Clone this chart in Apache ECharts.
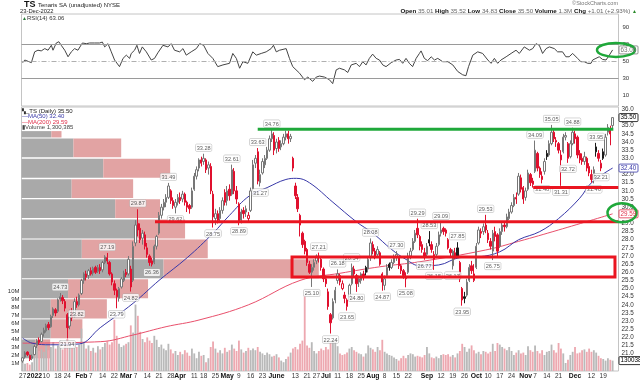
<!DOCTYPE html>
<html><head><meta charset="utf-8">
<script src="https://cdn.jsdelivr.net/npm/echarts@6/dist/echarts.min.js"></script>
<style>html,body{margin:0;padding:0;background:#fff}#c{width:640px;height:380px}</style>
</head><body><div id="c"></div>
<script>
// ---------------- DATA ----------------
const START = '2021-12-27', END = '2022-12-23';
const HOLIDAYS = ['2022-01-17','2022-02-21','2022-04-15','2022-05-30','2022-06-20','2022-07-04','2022-09-05','2022-11-24'];
const MONTH_NAMES = ['2022','Feb','Mar','Apr','May','June','Jul','Aug','Sep','Oct','Nov','Dec'];
// daily [open, close, low, high]
const CANDLES = [
[20.55,20.75,20.45,20.8],[20.8,21.05,20.7,21.15],[21.1,20.95,20.85,21.15],[20.9,20.65,20.55,20.95],[20.7,20.85,20.6,20.95],
[20.95,21.45,20.9,21.55],[21.5,21.8,21.35,21.9],[21.85,21.7,21.55,22.0],[21.75,22.2,21.7,22.3],[22.25,22.45,22.05,22.6],
[22.4,22.75,22.3,22.85],[22.8,22.6,22.45,22.95],[22.65,23.3,22.6,23.4],[23.35,23.75,23.2,23.85],[23.7,23.5,23.3,23.8],
[23.6,24.3,23.5,24.4],[24.35,24.5,24.2,24.73],[24.45,24.25,24.05,24.6],[24.2,23.8,23.6,24.35],
[23.4,22.6,21.94,23.5],[22.7,23.5,22.5,23.7],[23.5,23.2,23.0,23.8],[23.3,24.2,23.2,24.4],[24.2,24.0,23.82,24.5],
[24.0,24.6,23.9,24.7],[24.7,25.5,24.6,25.6],[25.5,25.9,25.3,26.0],[25.9,25.7,25.5,26.1],[25.8,26.1,25.6,26.2],
[26.1,25.9,25.8,26.3],[25.95,26.25,25.8,26.35],[26.3,26.0,25.9,26.4],[26.05,26.3,25.95,26.45],[26.3,26.1,25.9,26.5],
[26.15,26.6,26.0,26.7],[26.6,26.95,26.5,27.05],[26.9,26.7,26.5,27.19],[26.6,25.9,25.8,26.7],[25.9,25.4,25.2,26.0],
[25.3,24.9,24.6,25.5],[24.9,24.5,23.79,25.0],[24.4,25.0,24.2,25.1],[25.1,25.6,25.0,25.7],
[25.5,25.95,25.4,26.1],[26.0,25.85,25.7,26.2],[25.9,26.8,25.8,27.0],[26.2,25.1,24.82,26.4],[25.5,27.6,25.4,27.9],
[27.8,28.9,27.6,29.2],[29.0,28.6,28.2,29.87],[28.7,28.0,27.8,29.0],[28.1,28.4,27.7,28.6],[28.3,27.6,27.4,28.5],
[27.5,27.1,26.9,27.8],[27.0,26.6,26.4,27.1],[26.7,26.5,26.36,26.9],[26.6,27.6,26.5,27.7],[27.6,28.2,27.4,28.3],
[28.4,29.5,28.3,29.7],[29.5,30.0,29.3,30.2],[30.0,30.3,29.8,30.5],[30.3,30.6,30.0,30.8],[30.6,31.3,30.5,31.49],
[31.0,30.4,30.2,31.1],[30.4,30.1,29.9,30.6],[30.0,30.3,29.62,30.5],[30.3,30.6,30.1,30.8],[30.6,30.4,30.2,30.9],
[30.5,30.8,30.3,31.0],[30.8,30.3,30.1,30.9],[30.3,30.0,29.7,30.4],[30.1,29.9,29.6,30.2],[30.0,31.0,29.9,31.2],
[31.1,31.9,31.0,32.1],[31.9,32.3,31.7,32.5],[32.4,32.9,32.2,33.0],[32.9,32.7,32.5,33.1],
[32.8,33.0,32.6,33.28],[32.9,32.3,32.1,33.0],[32.4,32.6,32.0,32.8],[32.5,31.0,30.8,32.7],[30.8,29.4,28.75,31.0],
[29.3,29.6,28.9,29.9],[29.6,29.2,29.0,29.8],[29.3,29.8,29.1,30.0],[29.8,30.4,29.6,30.6],[30.9,30.3,30.1,31.1],
[30.4,31.0,30.1,31.3],[31.1,30.7,30.4,31.4],[30.8,32.3,30.7,32.61],[32.2,31.0,30.8,32.4],[31.0,30.5,30.2,31.3],
[30.2,29.1,28.89,30.3],[29.2,29.7,29.0,29.9],[29.8,29.6,29.3,30.0],[29.7,29.9,29.4,30.1],[29.3,29.5,29.1,29.7],
[29.8,31.0,29.7,31.2],[31.1,32.6,31.0,32.9],[32.7,33.0,32.4,33.2],[33.4,31.6,31.4,33.63],[31.5,32.0,31.27,32.3],
[32.1,32.8,32.0,33.0],[32.6,33.0,32.4,33.2],[33.0,33.5,32.9,33.7],[33.5,34.2,33.4,34.4],[34.2,34.5,34.0,34.76],
[34.4,33.5,33.2,34.6],[33.6,34.0,33.3,34.2],[34.1,33.6,33.4,34.3],[33.7,33.9,33.5,34.1],
[33.9,34.3,33.8,34.5],[34.3,34.5,34.1,34.7],[34.5,34.2,33.9,34.7],[34.2,34.35,34.0,34.5],[33.0,32.4,32.2,33.1],
[31.3,30.7,30.5,31.5],[30.6,29.9,29.7,30.8],[29.5,28.9,28.2,29.6],[28.4,27.7,27.5,28.5],[27.9,27.3,27.1,28.0],
[27.4,26.6,26.4,27.5],[26.5,26.0,25.9,26.7],[26.0,26.3,25.1,26.5],[26.3,26.6,26.1,26.8],
[26.7,27.0,26.5,27.1],[27.0,26.9,26.6,27.21],[26.8,26.3,26.1,26.9],[26.2,25.6,25.4,26.3],[25.6,25.3,25.1,25.8],
[24.8,23.9,23.7,25.0],[23.4,22.9,22.24,23.5],[23.2,24.2,23.1,24.4],[24.3,24.9,24.1,25.1],
[25.5,25.9,25.3,26.18],[25.8,25.4,25.2,25.9],[25.0,25.3,24.9,25.5],[24.6,24.4,24.1,24.8],[23.9,24.3,23.65,24.4],
[24.5,25.2,24.4,25.3],[25.3,26.3,25.2,26.54],[26.2,25.9,25.7,26.4],[25.8,25.3,24.8,25.9],[25.4,25.6,25.1,25.8],
[25.5,25.9,25.3,26.0],[25.9,25.7,25.5,26.1],[26.3,26.0,25.8,26.4],[26.2,26.8,26.0,27.0],[26.9,27.8,26.7,28.08],
[27.7,27.3,27.1,27.9],[27.3,27.0,26.8,27.5],[27.1,27.4,26.9,27.6],[27.2,26.5,26.4,27.3],[25.9,25.4,24.87,26.0],
[25.2,25.6,24.9,25.8],[25.8,26.3,25.7,26.5],[26.5,26.3,26.1,26.6],[26.3,26.6,26.2,26.8],[26.6,26.9,26.5,27.1],
[26.9,27.1,26.7,27.3],[26.9,26.4,26.2,27.0],[26.4,26.1,25.9,26.5],[26.1,25.8,25.6,26.2],[25.6,25.75,25.08,26.0],
[26.0,27.0,25.9,27.2],[27.0,27.3,26.8,27.5],[27.4,27.9,27.3,28.1],[27.9,28.4,27.8,28.6],[28.7,28.3,28.1,29.29],
[28.2,27.6,27.35,28.3],[27.7,27.4,27.2,27.9],[27.2,27.0,26.77,27.5],[27.1,27.6,27.0,27.8],[28.0,27.8,27.6,28.53],
[27.7,27.4,27.2,27.9],[26.8,27.1,26.15,27.3],[27.1,27.6,27.0,27.8],[27.7,28.3,27.6,28.5],
[28.4,28.6,28.2,29.09],[28.7,28.5,28.3,28.8],[28.6,28.4,28.2,28.7],[28.0,27.5,27.4,28.1],[27.4,27.2,26.9,27.5],
[26.4,27.3,26.17,27.4],[27.2,27.0,26.8,27.5],[27.5,27.0,26.9,27.85],[26.6,25.6,25.4,26.7],[25.0,24.3,23.95,25.1],
[24.5,24.4,24.1,24.8],[24.6,25.4,24.5,25.6],[25.5,26.3,25.4,26.5],[26.4,26.1,25.9,26.7],[25.5,25.9,25.4,26.5],
[26.3,27.6,26.2,27.8],[27.8,28.6,27.7,28.8],[28.5,28.4,28.1,28.7],[28.5,28.8,28.3,29.0],[28.9,28.6,28.4,29.53],
[28.4,28.0,27.8,28.6],[27.9,27.6,27.4,28.1],[27.3,28.4,26.75,28.6],[28.5,28.2,27.9,28.8],[28.3,27.3,27.0,28.4],
[27.6,28.5,27.5,28.7],[28.5,28.9,28.3,29.1],[28.9,28.8,28.5,29.1],[28.8,29.4,28.7,29.6],[29.3,29.7,29.2,29.9],
[29.7,30.1,29.6,30.3],[30.1,30.6,30.0,30.8],[30.6,30.5,30.2,30.9],[30.8,31.9,30.7,32.1],[31.8,31.1,30.9,32.0],
[31.2,30.5,30.2,31.3],[30.6,31.0,30.4,31.2],[31.1,32.1,31.0,32.3],[32.0,31.5,31.3,32.1],[31.6,31.4,31.2,31.8],
[32.2,33.5,32.1,34.09],[33.3,32.4,32.2,33.4],[32.4,32.0,31.8,32.5],[31.9,31.7,31.46,32.2],[32.2,32.8,32.0,33.0],
[33.3,33.1,32.9,33.5],[33.2,33.9,33.1,34.1],[33.9,34.6,33.8,35.05],[34.6,34.2,34.0,34.8],[34.0,34.1,33.7,34.3],
[33.9,33.5,33.3,34.0],[32.9,33.2,31.31,33.5],[33.4,34.3,33.3,34.5],[34.3,34.4,34.1,34.6],
[33.9,33.0,32.72,34.0],[33.1,33.9,33.0,34.1],[33.9,34.6,33.8,34.88],[34.5,34.2,33.9,34.7],[34.3,33.2,33.0,34.4],
[33.3,32.9,32.7,33.5],[33.0,32.8,32.6,33.3],[32.8,33.1,32.6,33.4],[33.0,32.4,32.2,33.1],[32.5,32.1,31.9,32.7],
[32.0,31.7,31.5,32.3],[31.8,32.3,31.46,32.5],[33.7,33.4,33.1,33.95],[33.3,33.0,32.8,33.5],[32.4,32.7,32.21,32.9],
[33.4,33.0,32.9,33.6],[33.2,34.3,33.1,34.5],[34.6,34.9,34.4,35.1],[34.8,34.49,33.8,35.0],[35.01,35.5,34.83,35.52]
];
// daily volume, millions
const VOLUME_M = [
1.2,0.9,1.0,0.8,1.1, 2.9,3.1,2.5,2.7,2.4, 3.4,2.6,3.0,3.6,2.8, 3.2,3.8,2.7,3.3, 4.0,3.1,2.9,3.5,3.0,
3.3,5.3,3.6,2.8,3.2, 2.5,2.9,2.3,3.1,2.7, 3.0,3.5,3.7,3.3,3.6, 6.4,4.4,3.4,3.0, 3.2,3.4,3.6,5.7,4.8,
8.3,6.9,4.9,4.0,3.6, 4.2,3.8,3.5,4.4,3.9, 3.0,3.3,2.8,2.6,3.4, 2.7,2.2,2.5,2.0,2.4, 2.1,2.6,2.3,1.9,2.8,
2.2,1.6,2.4,1.9, 2.0,1.1,1.6,3.0,3.7, 2.8,2.3,2.6,2.2,2.9, 2.4,2.6,3.3,2.8,2.5, 3.8,2.7,2.3,2.5,2.9,
2.6,2.8,2.6,3.0,2.4, 2.2,2.0,2.3,2.1,1.8, 1.9,2.1,1.7,1.3, 1.1,1.5,1.8,2.3,2.8, 3.0,2.7,3.4,3.8,9.5,
3.2,2.9,3.6,2.5, 2.2,2.5,2.8,2.6,3.0, 2.7,3.5,3.8,3.9, 3.1,2.2,2.0,2.1,2.3, 2.8,3.0,2.6,2.4,2.2,
2.1,1.8,2.2,3.2,2.9, 2.7,2.4,3.0,2.6,3.9, 2.4,2.2,2.0,1.9,1.7, 1.5,1.3,1.6,1.9,1.6, 2.0,2.2,2.1,1.8,1.9,
1.8,1.7,2.0,3.0,2.2, 1.7,1.6,1.8,1.6, 2.0,2.1,2.0,2.1,1.8, 2.0,1.7,2.2,2.5,3.4, 3.0,2.4,2.8,3.2,2.6,
2.2,2.4,2.1,2.5,2.4, 2.2,2.4,3.4,2.5,3.5, 3.3,3.0,2.8,2.6,3.0, 2.5,2.0,2.3,2.6,2.2, 2.3,2.0,3.1,2.6,2.4,
3.2,2.5,2.2,2.6,2.0, 2.4,2.5,3.3,2.6,2.3, 3.5,2.8,2.2,1.0, 1.4,2.0,2.4,3.0,2.2, 2.3,2.6,2.7,2.4,2.8,
2.4,2.6,2.3,1.9,1.6, 1.5,1.3,1.6,1.4,1.300385
];
// RSI(14) readings [day index, value]
const RSI_PTS = [[0,48],[0.9,51.2],[3.7,48.1],[5.1,60.8],[6.5,62.7],[7.9,61.9],[9.4,64.6],[10.8,62.7],[12.2,68.5],[12.9,62.7],[14.3,71.2],[15.4,72.7],[16.4,68.5],[17.9,62.7],[19.3,55],[20.7,60.8],[22.1,64.6],[23.5,62.7],[25.4,71.2],[27.1,70.4],[28.5,71.2],[30.6,71.2],[32.7,71.2],[33.9,72.3],[34.9,66.6],[36.3,70.4],[37.7,60.8],[39.1,51.2],[41.2,43.4],[42.7,53.1],[44.1,56.9],[45.5,53.1],[46.2,58.9],[47.6,62.7],[48.6,68.5],[49.7,58.9],[50.9,66.6],[52.6,60.8],[54.7,51.2],[56.1,53.1],[57.5,59.6],[59.7,68.5],[61.8,66.6],[63.2,70.4],[64.6,62.7],[66.8,60.8],[68.2,64.6],[69.6,56.9],[71.7,60.8],[73.9,64.6],[75.3,70.4],[77,68.5],[78.8,58.9],[80.9,53.1],[83,43.4],[85.2,45.4],[88,47.3],[89.4,58.9],[90.9,53.1],[92.3,41.5],[93.7,49.2],[95.8,47.3],[97.9,60.8],[99.4,56.9],[101.5,58.9],[103.6,60.8],[105.7,64.6],[106.7,68.5],[107.9,60.8],[109.3,62.7],[112.1,64.6],[113.5,53.1],[114.9,43.4],[117.8,35.7],[119.9,28],[121.3,31.1],[123.4,26.1],[124.9,31.1],[126.3,32.3],[128.4,31.1],[130.5,28],[131.9,23.4],[133.4,39.6],[134.8,41.5],[136.9,39.6],[138.3,36.5],[139.8,45.4],[141.9,47.3],[143.3,43.4],[144.7,49.2],[146.1,45.4],[147.5,53.1],[148.9,58.1],[150.4,53.1],[151.8,51.2],[153.2,45.4],[154.6,43.4],[156.8,48.1],[158.9,51.2],[160.3,51.9],[161.7,47.3],[163.1,53.1],[164.5,47.3],[165.9,43.4],[167.4,53.1],[168.8,58.9],[169.5,61.9],[170.9,53.1],[172.3,50.4],[173.8,55],[175.2,51.2],[176.6,53.1],[178.7,49.2],[180.9,49.2],[183,45.4],[185.1,37.7],[187.2,33.8],[188.6,32.7],[189.7,43.4],[191.5,56.9],[193.6,60.8],[195.7,58.9],[197.9,51.2],[199.3,47.3],[200.7,53.1],[202.1,47.3],[203.5,51.2],[205.7,55],[207.8,58.9],[209.9,62.7],[211.3,58.9],[213.4,66.6],[215.6,62.7],[217,64.6],[218.4,70.4],[219.8,68.5],[221.2,58.9],[222.7,64.6],[224.1,66.6],[224.8,68.5],[226.2,64.6],[227.6,60.8],[228.3,58.9],[229.7,60.8],[231.1,55],[232.5,55],[234,58.9],[236.1,53.1],[237.5,49.2],[238.9,49.2],[240.4,47.3],[241.8,47.3],[242.5,51.2],[243.9,53.1],[245.3,55],[246.7,51.9],[248.2,51.2],[249.6,56.9],[250.4,59],[251,63.06]];
const MA50_PTS = [[0,21.96],[4,21.65],[12,21.55],[24,21.6],[33,22.6],[47,24.1],[58,25.5],[70,26.9],[81,28.4],[88,29.5],[96.5,30.7],[104,31.2],[112,31.7],[116.5,31.77],[122,31.5],[132,30.3],[142,29.1],[149,28.4],[157,27.4],[163,26.8],[169,26.4],[177,26.45],[186,26.9],[194,26.95],[203,27.26],[211,28.0],[220,28.5],[228,29.3],[237,30.55],[242,31.5],[251,32.40]];
const MA200_PTS = [[0,21.65],[33,21.74],[47,22.15],[61,22.66],[75,23.07],[96,24.0],[118,25.5],[135,25.94],[152,26.34],[169,26.65],[197,27.37],[211,27.9],[228,28.6],[251,29.59]];
// volume-by-price: [low price, high price, up volume, down volume] (relative units)
const VBP = [[34.28,34.67,5.0,1.7],[33.06,34.22,8.7,8.0],[31.80,32.97,13.7,11.2],[30.56,31.72,8.4,10.3],[29.33,30.48,15.7,7.5],[28.08,29.25,19.4,8.0],[26.86,28.02,10.1,21.1],[25.63,26.80,23.8,26.0],[24.40,25.57,7.8,13.4],[23.17,24.34,4.9,9.4],[21.95,23.11,4.9,5.3],[20.72,21.88,2.3,2.5]];
// swing high/low labels: [day index, price, 't' above / 'b' below]
const HL_LABELS = [[16,24.73,'t'],[19,21.94,'b'],[23,23.82,'b'],[36,27.19,'t'],[40,23.79,'b'],[46,24.82,'b'],[49,29.87,'t'],[55,26.36,'b'],[62,31.49,'t'],[65,29.62,'b'],[77,33.28,'t'],[81,28.75,'b'],[89,32.61,'t'],[92,28.89,'b'],[100,33.63,'t'],[101,31.27,'b'],[106,34.76,'t'],[123,25.10,'b'],[126,27.21,'t'],[131,22.24,'b'],[134,26.18,'t'],[138,23.65,'b'],[140,26.54,'t'],[142,24.80,'b'],[148,28.08,'t'],[153,24.87,'b'],[159,27.30,'t'],[163,25.08,'b'],[168,29.29,'t'],[171,26.77,'b'],[173,28.53,'t'],[175,26.15,'b'],[178,29.09,'t'],[183,26.17,'b'],[185,27.85,'t'],[187,23.95,'b'],[197,29.53,'t'],[200,26.75,'b'],[218,34.09,'t'],[221,31.46,'b'],[225,35.05,'t'],[229,31.31,'b'],[232,32.72,'b'],[234,34.88,'t'],[243,31.46,'b'],[244,33.95,'t'],[246,32.21,'b']];
const PRICE_TICKS = [21.0,21.5,22.0,22.5,23.0,23.5,24.0,24.5,25.0,25.5,26.0,26.5,27.0,27.5,28.0,28.5,29.0,30.0,30.5,31.0,31.5,32.0,33.0,33.5,34.0,34.5,35.0,36.0];
const RSI_TICKS = [10,30,50,70,90];
const VOL_TICKS = [1,2,3,4,5,6,7,8,9,10];
const LAST = {open:35.01, high:35.52, low:34.83, close:35.50, vol:1300385, ma50:32.40, ma200:29.59, rsi:63.06, chg:1.01, chgPct:2.93};
// hand-drawn annotations in data space
const GREEN_LINE = [100, 251.3, 34.78];
const RED_LINES = [[56.3, 253.4, 29.10],[217.2, 253.4, 31.21]];
const RED_BOX = [114.6, 252.0, 25.71, 26.94];

// ---------------- BUILD ----------------
const DATES = [];
for (let t = Date.parse(START+'T00:00:00Z'); t <= Date.parse(END+'T00:00:00Z'); t += 86400000) {
  const d = new Date(t), wd = d.getUTCDay(), s = d.toISOString().slice(0,10);
  if (wd !== 0 && wd !== 6 && HOLIDAYS.indexOf(s) < 0) DATES.push(s);
}
const N = DATES.length, NC = N + 2;
const cats = DATES.concat(['', ' ']);
const LABELS = {};
const monthStarts = [];
for (let i = 1; i < N; i++) if (DATES[i].slice(5,7) !== DATES[i-1].slice(5,7)) monthStarts.push(i);
monthStarts.forEach(i => LABELS[i] = '{b|' + MONTH_NAMES[+DATES[i].slice(5,7) - 1] + '}');
const dow = s => new Date(s + 'T00:00:00Z').getUTCDay();
for (let i = 0; i < N; i++) {
  const ws = i === 0 || dow(DATES[i]) < dow(DATES[i-1]);
  if (ws && !LABELS[i] && !monthStarts.some(m => Math.abs(m - i) <= 3)) LABELS[i] = String(+DATES[i].slice(8));
}
const RED = '#e0102e', BLACK = '#1c1c1c', GRAYC = '#777777';
const candleData = CANDLES.map((c, i) => {
  const prev = i > 0 ? CANDLES[i-1][1] : c[0];
  const down = c[1] < prev, hollow = c[1] > c[0];
  const line = down ? RED : (hollow ? GRAYC : BLACK);
  const fill = hollow ? '#ffffff' : line;
  return {value: c, itemStyle: {color: fill, color0: fill, borderColor: line, borderColor0: line, borderWidth: 1}};
});
const volData = VOLUME_M.map((v, i) => {
  const prev = i > 0 ? CANDLES[i-1][1] : CANDLES[i][0];
  return {value: v, itemStyle: {color: CANDLES[i][1] < prev ? '#eda8b0' : '#b9b9b9'}};
});
const hlData = HL_LABELS.map(r => ({value: [r[0], r[1]], label: {position: r[2] === 't' ? 'top' : 'bottom'}}));

const FONT = 'Liberation Sans, Arial, sans-serif';
const L = 21.5, W = 597;
const chart = echarts.init(document.getElementById('c'));
chart.setOption({
  animation: false,
  backgroundColor: '#ffffff',
  textStyle: {fontFamily: FONT},
  grid: [
    {left: L, top: 14, width: W, height: 92, show: true, borderColor: '#c4c4c4', borderWidth: 1},
    {left: L, top: 107, width: W, height: 264, show: true, borderColor: '#c4c4c4', borderWidth: 1},
    {left: L, top: 287, width: W, height: 84, show: false},
    {left: L, top: 107, width: W, height: 264, show: false}
  ],
  xAxis: [
    {type: 'value', gridIndex: 0, min: -0.5, max: NC - 0.5, show: false},
    {type: 'category', gridIndex: 1, data: cats, boundaryGap: true,
     axisLine: {show: false}, axisTick: {show: false}, splitLine: {show: false},
     axisLabel: {interval: (idx) => !!LABELS[idx], formatter: (v, idx) => LABELS[idx] || '',
       fontSize: 6.5, margin: 2, color: '#333', fontFamily: FONT,
       rich: {b: {fontWeight: 'bold', fontSize: 6.8, color: '#111', fontFamily: FONT}}}},
    {type: 'value', gridIndex: 1, min: -0.5, max: NC - 0.5, show: false},
    {type: 'category', gridIndex: 2, data: cats, show: false},
    {type: 'value', gridIndex: 3, min: 0, max: 100, show: false}
  ],
  yAxis: [
    {type: 'value', gridIndex: 0, position: 'right', min: -2.9, max: 105.3,
     splitLine: {show: false}, axisLine: {show: false}, axisTick: {show: false},
     axisLabel: {customValues: RSI_TICKS, fontSize: 6, margin: 4, color: '#333'}},
    {type: 'value', gridIndex: 1, position: 'right', min: 19.94, max: 36.15,
     splitLine: {show: false}, axisLine: {show: false}, axisTick: {show: false},
     axisLabel: {customValues: PRICE_TICKS, formatter: v => v.toFixed(1), fontSize: 6.3, margin: 3, color: '#333'}},
    {type: 'value', gridIndex: 2, position: 'left', min: 0, max: 10.5,
     splitLine: {show: false}, axisLine: {show: false}, axisTick: {show: false},
     axisLabel: {customValues: VOL_TICKS, formatter: v => v + 'M', fontSize: 6, margin: 2, color: '#333'}},
    {type: 'value', gridIndex: 3, min: 19.94, max: 36.15, show: false}
  ],
  series: [
    {type: 'custom', xAxisIndex: 4, yAxisIndex: 3, z: 1, silent: true, data: VBP,
     renderItem: (params, api) => {
       const lo = api.value(0), hi = api.value(1), up = api.value(2), dn = api.value(3);
       const a = api.coord([0, hi]), b = api.coord([up, lo]), c = api.coord([up + dn, lo]);
       return {type: 'group', children: [
         {type: 'rect', shape: {x: a[0], y: a[1], width: b[0] - a[0], height: b[1] - a[1]}, style: {fill: '#a9a9a9'}},
         {type: 'rect', shape: {x: b[0], y: a[1], width: c[0] - b[0], height: b[1] - a[1]}, style: {fill: '#e2a3a3'}}
       ]};
     }},
    {type: 'bar', xAxisIndex: 3, yAxisIndex: 2, data: volData, barWidth: '78%', z: 2, silent: true},
    {type: 'line', xAxisIndex: 2, yAxisIndex: 1, data: MA200_PTS, smooth: 0.4, symbol: 'none', z: 3,
     lineStyle: {color: '#e9506c', width: 1}},
    {type: 'line', xAxisIndex: 2, yAxisIndex: 1, data: MA50_PTS, smooth: 0.4, symbol: 'none', z: 3,
     lineStyle: {color: '#3838a8', width: 1}},
    {type: 'candlestick', xAxisIndex: 1, yAxisIndex: 1, data: candleData, barWidth: '80%', z: 5, clip: true},
    {type: 'scatter', xAxisIndex: 1, yAxisIndex: 1, data: hlData, symbolSize: 1, z: 6,
     itemStyle: {color: 'rgba(0,0,0,0)'},
     label: {show: true, formatter: p => p.value[1].toFixed(2), distance: 2, fontSize: 5.6, color: '#333',
       backgroundColor: '#fff', borderColor: '#aaa', borderWidth: 0.5, padding: [1, 1, 0, 1], borderRadius: 1}},
    {type: 'line', xAxisIndex: 0, yAxisIndex: 0, data: RSI_PTS, symbol: 'none', z: 4,
     lineStyle: {color: '#444', width: 1},
     markLine: {silent: true, symbol: 'none', label: {show: false},
       data: [{yAxis: 70, lineStyle: {color: '#9a9a9a', type: 'solid', width: 1}},
              {yAxis: 30, lineStyle: {color: '#9a9a9a', type: 'solid', width: 1}},
              {yAxis: 50, lineStyle: {color: '#b0b0b0', type: [5, 2, 1, 2], width: 1}}]}}
  ]
});

// ---------------- OVERLAYS ----------------
const px = i => chart.convertToPixel({xAxisIndex: 2}, i);
const py = p => chart.convertToPixel({yAxisIndex: 1}, p);
const ry = v => chart.convertToPixel({yAxisIndex: 0}, v);
const vy = v => chart.convertToPixel({yAxisIndex: 2}, v);
const G = [];
const txt = (x, y, text, o) => G.push(Object.assign({type: 'text', z: 50, style: Object.assign({x: x, y: y, text: text, fontFamily: FONT, fontSize: 6, fill: '#222', verticalAlign: 'top'}, o || {})}));
txt(24, 0.3, 'TS', {fontWeight: 'bold', fontSize: 9, fill: '#111'});
txt(38, 2.5, 'Tenaris SA (unadjusted) NYSE', {fontSize: 6});
txt(20, 8.3, '23-Dec-2022', {fontSize: 5.8});
txt(618, 0.8, '©StockCharts.com', {fontSize: 5.5, fill: '#777', align: 'right'});
txt(637, 8.2, '{b|Open} ' + LAST.open.toFixed(2) + ' {b|High} ' + LAST.high.toFixed(2) + ' {b|Low} ' + LAST.low.toFixed(2) +
  ' {b|Close} ' + LAST.close.toFixed(2) + ' {b|Volume} 1.3M {b|Chg} +' + LAST.chg.toFixed(2) + ' (+' + LAST.chgPct.toFixed(2) + '%) {g|▲}',
  {align: 'right', fontSize: 6.2, fill: '#666', rich: {b: {fontWeight: 'bold', fill: '#111', fontSize: 6.2, fontFamily: FONT}, g: {fill: '#2a8a2a', fontSize: 5}}});
txt(22, 15.5, '{g|▲}RSI(14) ' + LAST.rsi.toFixed(2), {fontSize: 6, fill: '#333', rich: {g: {fill: '#2b7a3a', fontSize: 5}}});
txt(22, 108.5, '{k|▚}_TS (Daily) ' + LAST.close.toFixed(2), {fontSize: 6, fill: '#222', rich: {k: {fontSize: 5, fill: '#333'}}});
txt(22, 113.7, '—MA(50) ' + LAST.ma50.toFixed(2), {fontSize: 6, fill: '#3838a8'});
txt(22, 118.9, '—MA(200) ' + LAST.ma200.toFixed(2), {fontSize: 6, fill: '#e0304a'});
txt(22, 124.1, '▮Volume 1,300,385', {fontSize: 6, fill: '#444'});

const box = (y, text, col, w) => {
  G.push({type: 'rect', z: 40, shape: {x: 619, y: y - 4, width: w, height: 8, r: 1}, style: {fill: '#fff', stroke: col, lineWidth: 0.8}});
  txt(620.5, y, text, {fontSize: 6.3, fill: col, verticalAlign: 'middle', z: 41});
};
box(py(LAST.close), LAST.close.toFixed(2), '#000', 19);
box(py(LAST.ma50), LAST.ma50.toFixed(2), '#3838a8', 19);
box(py(LAST.ma200), LAST.ma200.toFixed(2), '#e0304a', 19);
box(vy(LAST.vol / 1e6), String(LAST.vol), '#000', 22);
box(ry(LAST.rsi), LAST.rsi.toFixed(2), '#777', 19);

// hand-drawn marks
const GREEN = '#1fa83a', REDA = '#ea1520';
G.push({type: 'line', z: 30, shape: {x1: px(GREEN_LINE[0]), y1: py(GREEN_LINE[2]), x2: px(GREEN_LINE[1]), y2: py(GREEN_LINE[2])}, style: {stroke: GREEN, lineWidth: 3}});
RED_LINES.forEach(r => G.push({type: 'line', z: 30, shape: {x1: px(r[0]), y1: py(r[2]), x2: px(r[1]), y2: py(r[2])}, style: {stroke: REDA, lineWidth: 3}}));
G.push({type: 'rect', z: 30, shape: {x: px(RED_BOX[0]), y: py(RED_BOX[3]), width: px(RED_BOX[1]) - px(RED_BOX[0]), height: py(RED_BOX[2]) - py(RED_BOX[3])}, style: {fill: 'none', stroke: REDA, lineWidth: 3}});
G.push({type: 'ellipse', z: 45, shape: {cx: 616, cy: ry(LAST.rsi), rx: 19, ry: 7}, style: {fill: 'none', stroke: GREEN, lineWidth: 2.5}});
G.push({type: 'ellipse', z: 45, shape: {cx: 622, cy: py(LAST.ma200) - 1, rx: 14.5, ry: 9.5}, style: {fill: 'none', stroke: GREEN, lineWidth: 2.5}});
chart.setOption({graphic: G});
</script></body></html>
